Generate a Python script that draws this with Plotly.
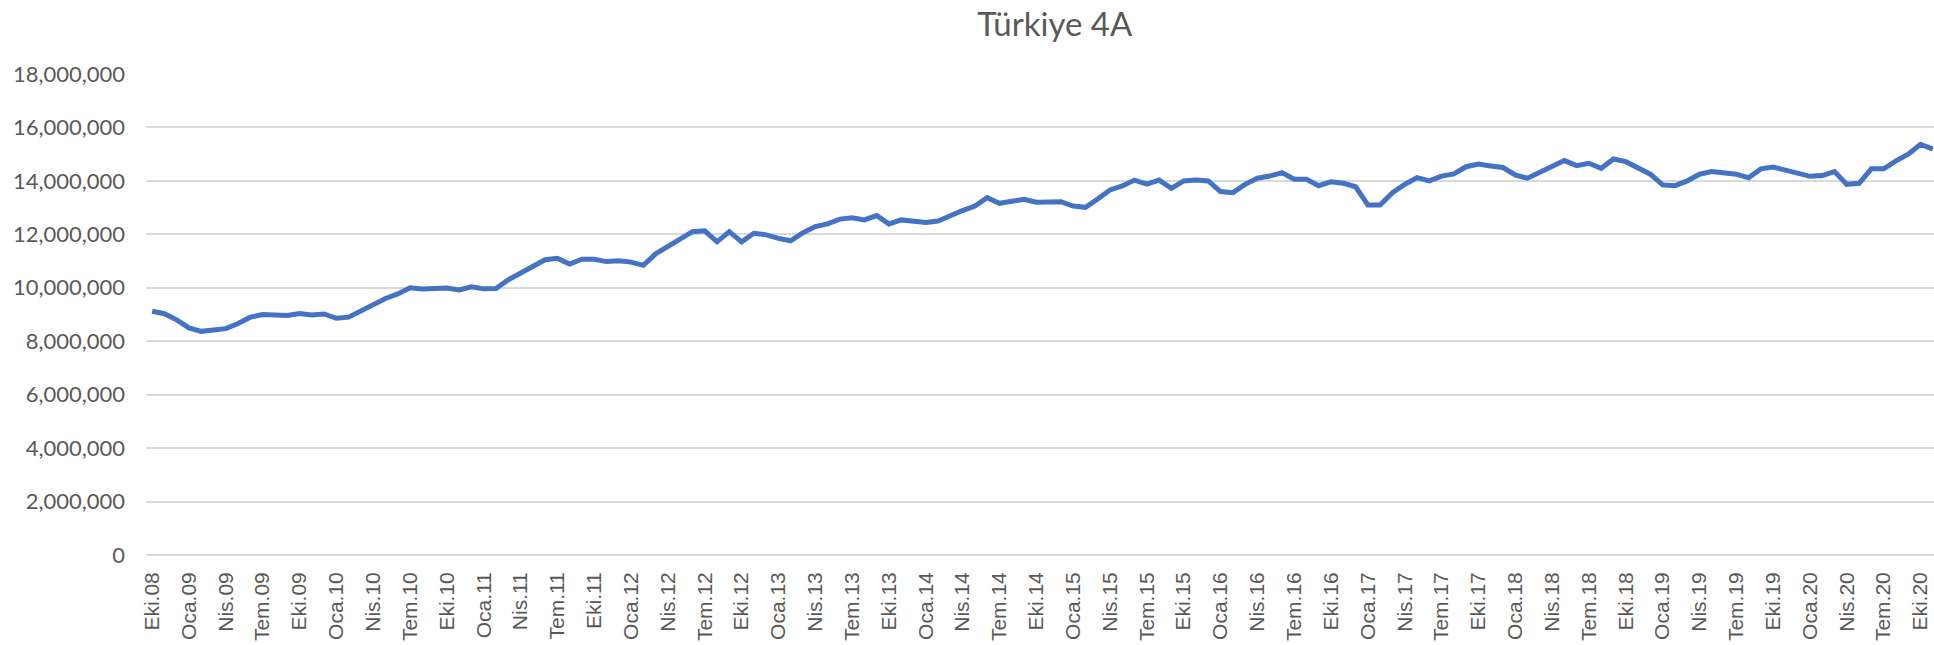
import plotly.graph_objects as go

# Monthly series, Oct 2008 (Eki.08) through Nov 2020 (Kas.20)
MONTHS = ["Oca", "Şub", "Mar", "Nis", "May", "Haz",
          "Tem", "Ağu", "Eyl", "Eki", "Kas", "Ara"]
START_YEAR, START_MONTH = 2008, 10

values = [
    9.12, 9.03, 8.80, 8.50, 8.37, 8.40, 8.47, 8.66, 8.90, 9.00,
    8.98, 8.96, 9.04, 8.98, 9.02, 8.86, 8.90, 9.13, 9.36, 9.60,
    9.77, 10.00, 9.95, 9.96, 9.99, 9.92, 10.04, 9.96, 9.97, 10.30,
    10.55, 10.80, 11.05, 11.10, 10.89, 11.07, 11.07, 10.98, 11.01, 10.96,
    10.84, 11.27, 11.54, 11.83, 12.10, 12.13, 11.72, 12.10, 11.72, 12.04,
    11.98, 11.85, 11.76, 12.06, 12.29, 12.39, 12.57, 12.62, 12.54, 12.70,
    12.39, 12.54, 12.47, 12.44, 12.50, 12.72, 12.89, 13.06, 13.37, 13.16,
    13.25, 13.31, 13.20, 13.22, 13.22, 13.06, 13.01, 13.32, 13.66, 13.81,
    14.03, 13.88, 14.03, 13.72, 14.00, 14.03, 14.00, 13.60, 13.56, 13.87,
    14.10, 14.18, 14.31, 14.06, 14.06, 13.82, 13.97, 13.91, 13.78, 13.10,
    13.10, 13.56, 13.87, 14.12, 14.00, 14.18, 14.26, 14.53, 14.63, 14.56,
    14.50, 14.22, 14.10, 14.32, 14.56, 14.76, 14.57, 14.66, 14.47, 14.82,
    14.72, 14.47, 14.25, 13.85, 13.82, 14.00, 14.25, 14.35, 14.32, 14.25,
    14.12, 14.45, 14.52, 14.41, 14.32, 14.17, 14.20, 14.35, 13.87, 13.91,
    14.45, 14.45, 14.75, 15.00, 15.37, 15.19,
]  # millions

categories = []
for k in range(len(values)):
    m = (START_MONTH - 1 + k) % 12
    y = START_YEAR + (START_MONTH - 1 + k) // 12
    categories.append(f"{MONTHS[m]}.{y % 100:02d}")

y_values = [v * 1_000_000 for v in values]
tick_labels = categories[::3]

y_ticks = list(range(0, 18_000_001, 2_000_000))

fig = go.Figure(
    go.Scatter(
        x=categories,
        y=y_values,
        mode="lines",
        line=dict(color="#4472C4", width=5),
        hoverinfo="x+y",
    )
)

GRID = "#D9D9D9"
TEXT = "#595959"

fig.update_layout(
    width=1934,
    height=645,
    margin=dict(l=146, r=0, t=74, b=90),
    paper_bgcolor="white",
    plot_bgcolor="white",
    showlegend=False,
    title=dict(
        text="Türkiye 4A",
        x=983 / 1934,
        xanchor="center",
        xref="paper",
        y=1 - 24 / 645,
        yref="container",
        yanchor="middle",
        font=dict(family="Lato", size=33, color=TEXT),
    ),
    xaxis=dict(
        type="category",
        categoryorder="array",
        categoryarray=categories,
        range=[-0.5, 145.1],
        tickmode="array",
        tickvals=tick_labels,
        ticktext=tick_labels,
        tickangle=-90,
        showgrid=False,
        showline=False,
        zeroline=False,
        ticks="",
        ticklabelstandoff=12,
        tickfont=dict(family="Liberation Sans", size=21, color=TEXT),
        automargin=False,
    ),
    yaxis=dict(
        range=[0, 18_000_000],
        tickmode="array",
        tickvals=y_ticks,
        tickformat=",",
        showgrid=True,
        gridcolor=GRID,
        gridwidth=1.5,
        zeroline=True,
        zerolinecolor=GRID,
        zerolinewidth=1.5,
        showline=False,
        ticks="",
        ticklabelstandoff=20,
        tickfont=dict(family="Lato", size=22, color=TEXT),
        automargin=False,
    ),
)

fig.write_html("out.html")
